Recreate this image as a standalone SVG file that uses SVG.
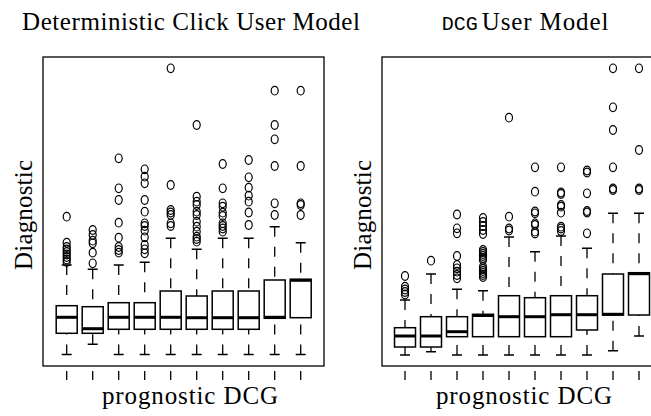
<svg xmlns="http://www.w3.org/2000/svg" xmlns:xlink="http://www.w3.org/1999/xlink" width="651" height="416" viewBox="0 0 651 416">
  <style>
    .frame { fill: none; stroke: #000; stroke-width: 1.3; }
    .box { fill: #fff; stroke: #000; stroke-width: 1.5; }
    .med { stroke: #000; stroke-width: 3; fill: none; }
    .wh { stroke: #000; stroke-width: 1.3; stroke-dasharray: 10 10; fill: none; }
    .cap { stroke: #000; stroke-width: 1.5; fill: none; }
    .out { fill: none; stroke: #000; stroke-width: 1.2; }
    .tick { stroke: #000; stroke-width: 1.3; fill: none; }
    text { fill: #000; }
  </style>
  <defs>
    <ellipse id="o" cx="0" cy="0" rx="3.5" ry="4.3" class="out"/>
  </defs>
  <rect width="651" height="416" fill="#fff"/>

  <!-- left panel: deterministic click user model -->
  <g id="panel-left">
    <g font-family="Liberation Serif, serif" font-size="25">
      <text x="191" y="29.5" text-anchor="middle" textLength="338" lengthAdjust="spacing">Deterministic Click User Model</text>
      <text x="190" y="404" text-anchor="middle" textLength="176" lengthAdjust="spacing">prognostic DCG</text>
      <text transform="translate(31.5,215) rotate(-90)" text-anchor="middle" textLength="110" lengthAdjust="spacing">Diagnostic</text>
    </g>
    <rect class="frame" x="43" y="57" width="281" height="309"/>
    <path class="tick" d="M66.7 371V380M92.7 371V380M118.7 371V380M144.7 371V380M170.7 371V380M196.7 371V380M222.7 371V380M248.7 371V380M274.7 371V380M300.7 371V380"/>

    <g id="L1">
      <path class="wh" d="M66.7 265V305.7M66.7 354.5V333.3"/>
      <path class="cap" d="M61.7 265H71.7M61.7 354.5H71.7"/>
      <rect class="box" x="56.2" y="305.7" width="21" height="27.6"/>
      <path class="med" d="M56.2 317.3H77.2"/>
      <use xlink:href="#o" x="66.7" y="216.7"/><use xlink:href="#o" x="66.7" y="242.7"/><use xlink:href="#o" x="66.7" y="247"/><use xlink:href="#o" x="66.7" y="249.5"/><use xlink:href="#o" x="66.7" y="252"/><use xlink:href="#o" x="66.7" y="254.5"/><use xlink:href="#o" x="66.7" y="257"/><use xlink:href="#o" x="66.7" y="259.5"/><use xlink:href="#o" x="66.7" y="262"/>
    </g>
    <g id="L2">
      <path class="wh" d="M92.7 269.3V306.7M92.7 344.3V333.3"/>
      <path class="cap" d="M87.7 269.3H97.7M87.7 344.3H97.7"/>
      <rect class="box" x="82.2" y="306.7" width="21" height="26.6"/>
      <path class="med" d="M82.2 328.7H103.2"/>
      <use xlink:href="#o" x="92.7" y="230"/><use xlink:href="#o" x="92.7" y="235"/><use xlink:href="#o" x="92.7" y="240.7"/><use xlink:href="#o" x="92.7" y="243.3"/><use xlink:href="#o" x="92.7" y="252.7"/><use xlink:href="#o" x="92.7" y="263.3"/>
    </g>
    <g id="L3">
      <path class="wh" d="M118.7 265V302.7M118.7 354.5V329.3"/>
      <path class="cap" d="M113.7 265H123.7M113.7 354.5H123.7"/>
      <rect class="box" x="108.2" y="302.7" width="21" height="26.6"/>
      <path class="med" d="M108.2 317.3H129.2"/>
      <use xlink:href="#o" x="118.7" y="158.3"/><use xlink:href="#o" x="118.7" y="188.3"/><use xlink:href="#o" x="118.7" y="200"/><use xlink:href="#o" x="118.7" y="222.7"/><use xlink:href="#o" x="118.7" y="237.7"/><use xlink:href="#o" x="118.7" y="247"/><use xlink:href="#o" x="118.7" y="250"/><use xlink:href="#o" x="118.7" y="252.7"/>
    </g>
    <g id="L4">
      <path class="wh" d="M144.7 262.3V302.7M144.7 354.5V329.3"/>
      <path class="cap" d="M139.7 262.3H149.7M139.7 354.5H149.7"/>
      <rect class="box" x="134.2" y="302.7" width="21" height="26.6"/>
      <path class="med" d="M134.2 317.3H155.2"/>
      <use xlink:href="#o" x="144.7" y="169.3"/><use xlink:href="#o" x="144.7" y="176.7"/><use xlink:href="#o" x="144.7" y="183.3"/><use xlink:href="#o" x="144.7" y="200"/><use xlink:href="#o" x="144.7" y="211.7"/><use xlink:href="#o" x="144.7" y="223.3"/><use xlink:href="#o" x="144.7" y="226"/><use xlink:href="#o" x="144.7" y="230.7"/><use xlink:href="#o" x="144.7" y="237.3"/><use xlink:href="#o" x="144.7" y="245"/><use xlink:href="#o" x="144.7" y="249.3"/><use xlink:href="#o" x="144.7" y="253.3"/>
    </g>
    <g id="L5">
      <path class="wh" d="M170.7 238.3V291M170.7 354.5V329.3"/>
      <path class="cap" d="M165.7 238.3H175.7M165.7 354.5H175.7"/>
      <rect class="box" x="160.2" y="291" width="21" height="38.3"/>
      <path class="med" d="M160.2 317.3H181.2"/>
      <use xlink:href="#o" x="170.7" y="68.3"/><use xlink:href="#o" x="170.7" y="185"/><use xlink:href="#o" x="170.7" y="210"/><use xlink:href="#o" x="170.7" y="212.5"/><use xlink:href="#o" x="170.7" y="215"/><use xlink:href="#o" x="170.7" y="223.3"/><use xlink:href="#o" x="170.7" y="226"/>
    </g>
    <g id="L6">
      <path class="wh" d="M196.7 249.3V296M196.7 354.5V329.3"/>
      <path class="cap" d="M191.7 249.3H201.7M191.7 354.5H201.7"/>
      <rect class="box" x="186.2" y="296" width="21" height="33.3"/>
      <path class="med" d="M186.2 317.7H207.2"/>
      <use xlink:href="#o" x="196.7" y="125"/><use xlink:href="#o" x="196.7" y="196.7"/><use xlink:href="#o" x="196.7" y="201.7"/><use xlink:href="#o" x="196.7" y="205"/><use xlink:href="#o" x="196.7" y="211.7"/><use xlink:href="#o" x="196.7" y="215"/><use xlink:href="#o" x="196.7" y="221.7"/><use xlink:href="#o" x="196.7" y="226.7"/><use xlink:href="#o" x="196.7" y="231.7"/><use xlink:href="#o" x="196.7" y="236.7"/><use xlink:href="#o" x="196.7" y="239"/><use xlink:href="#o" x="196.7" y="241.7"/>
    </g>
    <g id="L7">
      <path class="wh" d="M222.7 238.3V291M222.7 354.5V329.3"/>
      <path class="cap" d="M217.7 238.3H227.7M217.7 354.5H227.7"/>
      <rect class="box" x="212.2" y="291" width="21" height="38.3"/>
      <path class="med" d="M212.2 317.7H233.2"/>
      <use xlink:href="#o" x="222.7" y="164"/><use xlink:href="#o" x="222.7" y="188.3"/><use xlink:href="#o" x="222.7" y="203.3"/><use xlink:href="#o" x="222.7" y="206.7"/><use xlink:href="#o" x="222.7" y="212.7"/><use xlink:href="#o" x="222.7" y="216"/><use xlink:href="#o" x="222.7" y="223.3"/><use xlink:href="#o" x="222.7" y="226"/><use xlink:href="#o" x="222.7" y="228.5"/><use xlink:href="#o" x="222.7" y="231.7"/>
    </g>
    <g id="L8">
      <path class="wh" d="M248.7 238.3V291M248.7 354.5V329.3"/>
      <path class="cap" d="M243.7 238.3H253.7M243.7 354.5H253.7"/>
      <rect class="box" x="238.2" y="291" width="21" height="38.3"/>
      <path class="med" d="M238.2 317.7H259.2"/>
      <use xlink:href="#o" x="248.7" y="160"/><use xlink:href="#o" x="248.7" y="177.3"/><use xlink:href="#o" x="248.7" y="187.7"/><use xlink:href="#o" x="248.7" y="195.7"/><use xlink:href="#o" x="248.7" y="201.7"/><use xlink:href="#o" x="248.7" y="212.5"/><use xlink:href="#o" x="248.7" y="225"/>
    </g>
    <g id="L9">
      <path class="wh" d="M274.7 226.7V280M274.7 354.5V318.3"/>
      <path class="cap" d="M269.7 226.7H279.7M269.7 354.5H279.7"/>
      <rect class="box" x="264.2" y="280" width="21" height="38.3"/>
      <path class="med" d="M264.2 317.3H285.2"/>
      <use xlink:href="#o" x="274.7" y="90.7"/><use xlink:href="#o" x="274.7" y="125"/><use xlink:href="#o" x="274.7" y="139.3"/><use xlink:href="#o" x="274.7" y="166"/><use xlink:href="#o" x="274.7" y="203.3"/><use xlink:href="#o" x="274.7" y="215"/>
    </g>
    <g id="L10">
      <path class="wh" d="M300.7 242.7V279.3M300.7 354.5V317.7"/>
      <path class="cap" d="M295.7 242.7H305.7M295.7 354.5H305.7"/>
      <rect class="box" x="290.2" y="279.3" width="21" height="38.4"/>
      <path class="med" d="M290.2 280.3H311.2"/>
      <use xlink:href="#o" x="300.7" y="90.7"/><use xlink:href="#o" x="300.7" y="166"/><use xlink:href="#o" x="300.7" y="203.3"/><use xlink:href="#o" x="300.7" y="205"/><use xlink:href="#o" x="300.7" y="215"/>
    </g>
  </g>

  <!-- right panel: DCG user model -->
  <g id="panel-right">
    <text font-family="Liberation Mono, monospace" font-size="20" x="441.7" y="29.5">DCG</text>
    <g font-family="Liberation Serif, serif" font-size="25">
      <text x="481.7" y="29.5" textLength="126.7" lengthAdjust="spacing">User Model</text>
      <text x="524" y="404" text-anchor="middle" textLength="176" lengthAdjust="spacing">prognostic DCG</text>
      <text transform="translate(370.5,215) rotate(-90)" text-anchor="middle" textLength="110" lengthAdjust="spacing">Diagnostic</text>
    </g>
    <rect class="frame" x="382" y="57" width="281" height="309"/>
    <path class="tick" d="M405 371V380M431 371V380M457 371V380M483 371V380M509 371V380M535 371V380M561 371V380M587 371V380M613 371V380M639 371V380"/>

    <g id="R1">
      <path class="wh" d="M405 300V327.7M405 355V347"/>
      <path class="cap" d="M400 300H410M400 355H410"/>
      <rect class="box" x="394.5" y="327.7" width="21" height="19.3"/>
      <path class="med" d="M394.5 336H415.5"/>
      <use xlink:href="#o" x="405" y="276"/><use xlink:href="#o" x="405" y="286.7"/><use xlink:href="#o" x="405" y="289.5"/><use xlink:href="#o" x="405" y="292"/><use xlink:href="#o" x="405" y="294.5"/>
    </g>
    <g id="R2">
      <path class="wh" d="M431 274V316.7M431 351.7V347"/>
      <path class="cap" d="M426 274H436M426 351.7H436"/>
      <rect class="box" x="420.5" y="316.7" width="21" height="30.3"/>
      <path class="med" d="M420.5 336H441.5"/>
      <use xlink:href="#o" x="431" y="260.7"/>
    </g>
    <g id="R3">
      <path class="wh" d="M457 289.3V316.7M457 355V336.7"/>
      <path class="cap" d="M452 289.3H462M452 355H462"/>
      <rect class="box" x="446.5" y="316.7" width="21" height="20"/>
      <path class="med" d="M446.5 331.7H467.5"/>
      <use xlink:href="#o" x="457" y="214.5"/><use xlink:href="#o" x="457" y="228.3"/><use xlink:href="#o" x="457" y="233.3"/><use xlink:href="#o" x="457" y="256"/><use xlink:href="#o" x="457" y="265"/><use xlink:href="#o" x="457" y="268.3"/><use xlink:href="#o" x="457" y="271.7"/><use xlink:href="#o" x="457" y="275"/><use xlink:href="#o" x="457" y="278.3"/>
    </g>
    <g id="R4">
      <path class="wh" d="M483 290.7V314.3M483 355V336.7"/>
      <path class="cap" d="M478 290.7H488M478 355H488"/>
      <rect class="box" x="472.5" y="314.3" width="21" height="22.4"/>
      <path class="med" d="M472.5 315.5H493.5"/>
      <use xlink:href="#o" x="483" y="218"/><use xlink:href="#o" x="483" y="222"/><use xlink:href="#o" x="483" y="226"/><use xlink:href="#o" x="483" y="230"/><use xlink:href="#o" x="483" y="234"/><use xlink:href="#o" x="483" y="250"/><use xlink:href="#o" x="483" y="252"/><use xlink:href="#o" x="483" y="254"/><use xlink:href="#o" x="483" y="256"/><use xlink:href="#o" x="483" y="258"/><use xlink:href="#o" x="483" y="260"/><use xlink:href="#o" x="483" y="267"/><use xlink:href="#o" x="483" y="269"/><use xlink:href="#o" x="483" y="271"/><use xlink:href="#o" x="483" y="273"/><use xlink:href="#o" x="483" y="275"/><use xlink:href="#o" x="483" y="277"/>
    </g>
    <g id="R5">
      <path class="wh" d="M509 237V295.7M509 355V336.7"/>
      <path class="cap" d="M504 237H514M504 355H514"/>
      <rect class="box" x="498.5" y="295.7" width="21" height="41"/>
      <path class="med" d="M498.5 316.7H519.5"/>
      <use xlink:href="#o" x="509" y="117.7"/><use xlink:href="#o" x="509" y="216.7"/><use xlink:href="#o" x="509" y="228.5"/><use xlink:href="#o" x="509" y="230.5"/>
    </g>
    <g id="R6">
      <path class="wh" d="M535 251.7V297.7M535 355V336.7"/>
      <path class="cap" d="M530 251.7H540M530 355H540"/>
      <rect class="box" x="524.5" y="297.7" width="21" height="39"/>
      <path class="med" d="M524.5 316.7H545.5"/>
      <use xlink:href="#o" x="535" y="167.3"/><use xlink:href="#o" x="535" y="191.7"/><use xlink:href="#o" x="535" y="211.5"/><use xlink:href="#o" x="535" y="213.3"/><use xlink:href="#o" x="535" y="223.3"/><use xlink:href="#o" x="535" y="225"/><use xlink:href="#o" x="535" y="231.7"/><use xlink:href="#o" x="535" y="233.5"/>
    </g>
    <g id="R7">
      <path class="wh" d="M561 236V295.7M561 355V336.7"/>
      <path class="cap" d="M556 236H566M556 355H566"/>
      <rect class="box" x="550.5" y="295.7" width="21" height="41"/>
      <path class="med" d="M550.5 314.7H571.5"/>
      <use xlink:href="#o" x="561" y="167.3"/><use xlink:href="#o" x="561" y="192.5"/><use xlink:href="#o" x="561" y="194"/><use xlink:href="#o" x="561" y="205"/><use xlink:href="#o" x="561" y="206.7"/><use xlink:href="#o" x="561" y="212.7"/><use xlink:href="#o" x="561" y="226.7"/><use xlink:href="#o" x="561" y="228.5"/><use xlink:href="#o" x="561" y="231"/>
    </g>
    <g id="R8">
      <path class="wh" d="M587 248.3V295.7M587 355V330"/>
      <path class="cap" d="M582 248.3H592M582 355H592"/>
      <rect class="box" x="576.5" y="295.7" width="21" height="34.3"/>
      <path class="med" d="M576.5 314.7H597.5"/>
      <use xlink:href="#o" x="587" y="170.5"/><use xlink:href="#o" x="587" y="172.5"/><use xlink:href="#o" x="587" y="193.3"/><use xlink:href="#o" x="587" y="211"/><use xlink:href="#o" x="587" y="212.5"/><use xlink:href="#o" x="587" y="233.3"/>
    </g>
    <g id="R9">
      <path class="wh" d="M613 213.3V274M613 350.7V315"/>
      <path class="cap" d="M608 213.3H618M608 350.7H618"/>
      <rect class="box" x="602.5" y="274" width="21" height="41"/>
      <path class="med" d="M602.5 314.3H623.5"/>
      <use xlink:href="#o" x="613" y="68.3"/><use xlink:href="#o" x="613" y="107.3"/><use xlink:href="#o" x="613" y="130"/><use xlink:href="#o" x="613" y="167.3"/><use xlink:href="#o" x="613" y="188.5"/><use xlink:href="#o" x="613" y="190"/>
    </g>
    <g id="R10">
      <path class="wh" d="M639 213.3V272.7M639 336V315"/>
      <path class="cap" d="M634 213.3H644M634 336H644"/>
      <rect class="box" x="628.5" y="272.7" width="21" height="42.3"/>
      <path class="med" d="M628.5 273.7H649.5"/>
      <use xlink:href="#o" x="639" y="68.3"/><use xlink:href="#o" x="639" y="150"/><use xlink:href="#o" x="639" y="188.5"/><use xlink:href="#o" x="639" y="190"/>
    </g>
  </g>
</svg>
